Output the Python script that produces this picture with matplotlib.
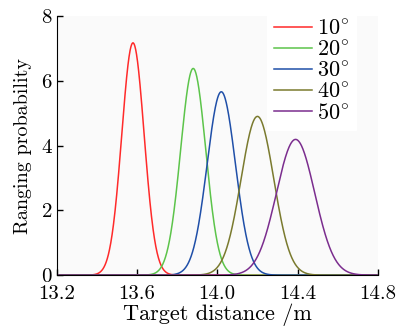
import numpy as np
import matplotlib
matplotlib.use("Agg")
import matplotlib.pyplot as plt

plt.rcParams['font.family'] = ['cmr10', 'DejaVu Serif']
plt.rcParams['mathtext.fontset'] = 'cm'
plt.rcParams['axes.formatter.use_mathtext'] = True

labels = ['10$^{\\circ}$', '20$^{\\circ}$', '30$^{\\circ}$', '40$^{\\circ}$', '50$^{\\circ}$']
centers = [13.58, 13.88, 14.02, 14.20, 14.39]
peaks = [7.17, 6.38, 5.66, 4.90, 4.19]
colors = ['#ff2a2a', '#5cc44a', '#1f4fa8', '#7a7a2e', '#7b2d8e']
xticks = [13.2, 13.6, 14.0, 14.4, 14.8]
yticks = [0, 2, 4, 6, 8]

fig = plt.figure(figsize=(4.02, 3.26), dpi=100)
ax = fig.add_axes([0.141, 0.156, 0.799, 0.795])
ax.set_facecolor('#fafafa')

x = np.linspace(13.2, 14.8, 1200)
for lab, mu, pk, c in zip(labels, centers, peaks, colors):
    sigma = 1.0 / (pk * np.sqrt(2 * np.pi))
    y = pk * np.exp(-0.5 * ((x - mu) / sigma) ** 2)
    ax.plot(x, y, color=c, lw=1.1, label=lab)

ax.set_xlim(13.2, 14.8)
ax.set_ylim(0, 8)
ax.set_xticks(xticks)
ax.set_xticklabels([f'{t:.1f}' for t in xticks])
ax.set_yticks(yticks)
ax.spines['top'].set_visible(False)
ax.spines['right'].set_visible(False)
ax.tick_params(direction='in', length=4, width=1, labelsize=15)
ax.tick_params(axis='x', pad=7)
ax.tick_params(axis='y', pad=3)
ax.set_xlabel('Target distance /m', fontsize=16, labelpad=0.5)
ax.set_ylabel('Ranging probability', fontsize=14.5, labelpad=6)

leg = ax.legend(loc='upper left', bbox_to_anchor=(0.62, 1.055), frameon=True,
                fontsize=16, handlelength=1.75, handletextpad=0.2,
                labelspacing=0.06, borderpad=0.3)
leg.get_frame().set_facecolor('white')
leg.get_frame().set_edgecolor('white')
leg.get_frame().set_alpha(1.0)
leg.get_frame().set_boxstyle('square', pad=0)

fig.savefig('out.png', dpi=100)
